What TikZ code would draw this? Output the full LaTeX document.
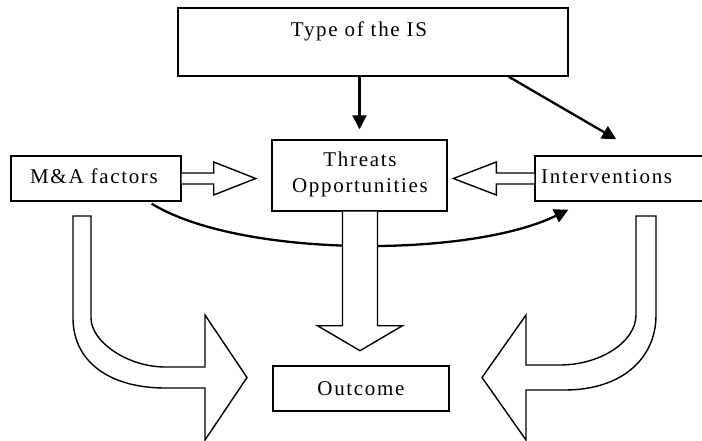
\documentclass[tikz,border=0pt]{standalone}
\usepackage{fontspec}
\setmainfont{Liberation Serif}[LetterSpace=8]
\usetikzlibrary{arrows.meta,calc}
\begin{document}
\begin{tikzpicture}[x=1pt,y=-1pt,
  box/.style={draw, line width=1.4pt, fill=white, inner sep=0pt},
  caption/.style={inner sep=0pt, font=\fontsize{21}{26}\selectfont},
  blockarrow/.style={draw, fill=white, line width=1.4pt, line join=miter},
  link/.style={line width=2.3pt, -{Triangle[length=14pt,width=14pt]}}]
\useasboundingbox (0,0) rectangle (702,441);
\clip (0,0) rectangle (702,441);
\fill[white] (0,0) rectangle (702,441);

% boxes
\node[box, minimum width=390pt, minimum height=68pt] (type) at (373,42) {};
\node[box, minimum width=175pt, minimum height=71pt] (threats) at (359.5,175.5) {};
\node[box, minimum width=170pt, minimum height=45pt] (ma) at (96,178.5) {};
\node[box, minimum width=185pt, minimum height=45pt] (interv) at (627.5,178.5) {};
\node[box, minimum width=176pt, minimum height=45pt] (outcome) at (361,388.5) {};

% labels (a multi-line node sits on the baseline of its last line)
\node[caption, anchor=base] (typetxt) at (359,37) {Type of the IS};
\node[caption, anchor=base, align=center] (threatstxt) at (360,193) {Threats\\Opportunities};
\node[caption, anchor=base] (matxt) at (94,184) {M\&A factors};
\node[caption, anchor=base west] (intervtxt) at (541,184) {Interventions};
\node[caption, anchor=base] (outcometxt) at (361,395) {Outcome};

% thin connectors
\draw[link] (threats.north |- type.south) -- ($(threats.north)+(0,-10)$);
\draw[link] ($(type.south east)+(-60,0)$) -- ($(interv.north west)+(82,-16)$);
\draw[link] ($(ma.south east)+(-30,2)$) .. controls (240,258) and (470,258) .. ($(interv.south west)+(34,8)$);

% block arrows into the threats box
\draw[blockarrow, shift={(ma.east)}]
  (0,-5.5) -- (32,-5.5) -- (32,-16.5) -- (74,0) -- (32,16.5) -- (32,5.5) -- (0,5.5);
\draw[blockarrow, shift={(interv.west)}]
  (0,-5.5) -- (-38,-5.5) -- (-38,-16.5) -- (-81,0) -- (-38,16.5) -- (-38,5.5) -- (0,5.5);

% block arrow from threats to outcome
\draw[blockarrow, shift={(threats.south)}]
  (-17,0) -- (-17,114) -- (-42,114) -- (0.5,139) -- (43,114) -- (18,114) -- (18,0);

% bent block arrows into the outcome box
\draw[blockarrow]
  (73,216) -- (73,318) .. controls (73,362) and (110,388) .. (165,388)
  -- (205,388) -- (205,440) -- (247,377.5) -- (205,315) -- (205,367)
  -- (165,367) .. controls (128,367) and (91,342) .. (91,318) -- (91,216) -- cycle;
\draw[blockarrow]
  (636,216) -- (636,315) .. controls (636,342) and (600,365) .. (560,365)
  -- (526,365) -- (526,315) -- (482,377.5) -- (526,440) -- (526,390)
  -- (565,390) .. controls (620,390) and (656,360) .. (656,315) -- (656,216) -- cycle;
\end{tikzpicture}
\end{document}
